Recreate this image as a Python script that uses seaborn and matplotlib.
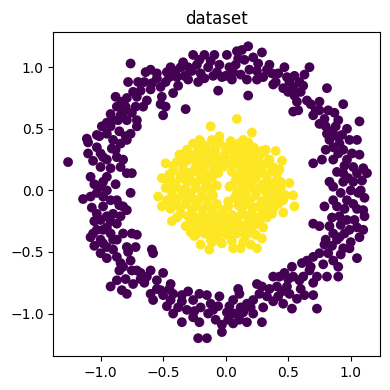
import pandas as pd
import seaborn as sns
import matplotlib.pyplot as plt

# outer ring (label 0)
outer_x = [-1.26, -1.14, -1.07, -1.11, -1.10, -1.10, -1.06, -1.08, -1.00, -1.03,
           -1.01, -0.99, -0.95, -0.92, -0.90, -0.86, -0.84, -0.82, -0.79, -0.88,
           -0.87, -0.83, -0.79, -0.78, -0.76, -0.74, -0.71, -0.68, -0.66, -0.63,
           -0.64, -0.60, -0.59, -0.55, -0.52, -0.50, -0.51, -0.48, -0.47, -0.44,
           -0.42, -0.39, -0.36, -0.34, -0.32, -0.30, -0.26, -0.23, -0.21, -0.17,
           -0.17, -0.14, -0.09, -0.07, -0.06, -0.03, 0.01, 0.03, 0.06, 0.09,
           0.13, 0.15, 0.18, 0.18, 0.17, 0.19, 0.25, 0.26, 0.29, 0.33,
           0.37, 0.38, 0.46, 0.47, 0.49, 0.51, 0.54, 0.54, 0.55, 0.57,
           0.59, 0.63, 0.67, 0.65, 0.70, 0.75, 0.81, 0.82, 0.94, 0.75,
           0.79, 0.87, 0.90, 1.07, 0.81, 0.83, 0.86, 0.89, 0.91, 0.94,
           0.99, 1.05, 0.97, 1.01, 0.70, 0.77, 0.86, 1.07, 1.02, 1.05,
           1.10, 0.89, 0.94, 0.83, 0.86, 0.94, 1.02, 1.09, 1.13, 1.11,
           0.86, 0.89, 0.79, 0.91, 0.97, 1.02, 1.06, 1.10, 1.11, 0.70,
           0.75, 0.83, 0.86, 0.89, 0.99, 0.97, 1.03, 1.10, 1.07, 0.94,
           0.99, 1.05, 0.91, 0.79, 0.82, 0.75, 0.86, 0.90, 0.90, 0.70,
           0.65, 0.61, 0.67, 0.73, 0.81, 0.53, 0.59, 0.54, 0.47, 0.43,
           0.38, 0.49, 0.41, 0.42, 0.46, 0.53, 0.73, 0.70, 0.63, 0.57,
           0.51, 0.33, 0.29, 0.25, 0.27, 0.22, 0.17, 0.11, 0.10, 0.06,
           0.03, 0.01, 0.07, 0.14, 0.22, 0.29, 0.17, 0.11, 0.06, -0.03,
           -0.05, -0.06, -0.10, -0.14, -0.03, -0.15, -0.22, -0.21, -0.26, -0.31,
           -0.26, -0.21, -0.15, -0.30, -0.35, -0.42, -0.44, -0.47, -0.44, -0.50,
           -0.52, -0.58, -0.60, -0.42, -0.35, -0.55, -0.60, -0.58, -0.59, -0.63,
           -0.68, -0.71, -0.74, -0.79, -0.83, -0.87, -0.92, -0.76, -0.82, -0.84,
           -0.87, -0.90, -0.95, -1.00, -0.98, -1.00, -1.06, -1.08, -1.03, -0.98,
           -0.92, -0.87, -0.79, -0.72, -0.75, -0.71, -0.82, -0.84, -0.87, -0.90,
           -0.95, -1.00, -1.03, -0.98, -0.92, -0.87, -0.82, -0.79, -1.03, -1.00,
           -0.98, -0.95, -0.76, -0.75, -0.79, -0.84, -0.87, -0.88, -0.84, -0.80,
           -0.79, -0.90, -0.98, -0.95, -0.91, -0.71, -0.71, -0.76, -0.75,
           -0.55, -0.48, -0.40, -0.33, -0.27, -0.20, -0.12, -0.05, 0.00, 0.08,
           0.12, 0.22, 0.30, 0.42, 0.55, 0.60, 0.68, 0.72, 0.80, 0.85,
           0.93, 0.95, 1.00, 0.92, 1.05, 0.95, 0.85, 0.78, 0.70, 0.60,
           0.45, 0.35, 0.20, -0.08, -0.20, -0.35, -0.50, -0.65, -0.75, -0.85,
           -0.95, -0.92, -0.95, -1.05, -0.92, -1.03, -0.95, -0.80, -0.70, -0.60,
           -0.45, -0.38, -0.30, -0.22, -0.10, 0.05, 0.10, 0.25, 0.35, 0.40,
           0.50, 0.62, 0.58, 0.75, 0.88, 0.97, 0.90, 0.80, 0.98, 1.08,
           0.95, 0.85, 1.05, 0.92, 1.00, 0.92, 0.80, 0.68, 0.62, 0.50,
           0.38, 0.30, 0.12, 0.02, -0.12, -0.25, -0.38, -0.45, -0.55, -0.68,
           -0.80, -0.78, -0.90, -1.05, -0.95, -1.05, -0.85, -0.98, -1.08, -0.88,
           -0.82, -1.00, -0.92, -0.85, -0.72, -0.65, -0.52]
outer_y = [0.23, -0.07, -0.14, 0.42, 0.39, 0.30, 0.24, 0.11, 0.19, 0.35,
           0.44, 0.52, 0.46, 0.52, 0.57, 0.57, 0.61, 0.63, 0.57, 0.76,
           0.68, 0.72, 0.75, 0.88, 1.03, 0.80, 0.76, 0.81, 0.68, 0.73,
           0.96, 0.98, 0.87, 0.91, 0.84, 0.61, 0.76, 0.68, 0.96, 1.00,
           0.79, 0.92, 1.00, 1.04, 0.66, 1.00, 1.10, 1.02, 1.06, 0.91,
           1.10, 1.00, 1.10, 0.96, 0.81, 0.92, 1.10, 1.00, 0.96, 1.13,
           1.14, 1.06, 1.17, 0.77, 0.90, 0.98, 0.90, 1.03, 1.12, 0.98,
           0.95, 0.86, 0.83, 1.00, 0.92, 0.88, 0.84, 0.64, 0.77, 0.72,
           0.88, 0.94, 1.00, 0.73, 0.61, 0.65, 0.83, 0.65, 0.70, 0.54,
           0.58, 0.63, 0.57, 0.56, 0.46, 0.41, 0.35, 0.44, 0.38, 0.33,
           0.41, 0.41, 0.25, 0.30, 0.22, 0.25, 0.25, 0.29, 0.19, 0.14,
           0.18, 0.15, 0.14, 0.07, 0.03, 0.07, 0.07, 0.08, 0.14, -0.06,
           -0.08, -0.13, -0.13, -0.21, -0.08, -0.11, -0.02, -0.16, -0.21, -0.27,
           -0.29, -0.29, -0.35, -0.40, -0.32, -0.24, -0.24, -0.32, -0.38, -0.47,
           -0.47, -0.55, -0.38, -0.44, -0.51, -0.51, -0.57, -0.62, -0.70, -0.54,
           -0.57, -0.59, -0.65, -0.70, -0.70, -0.62, -0.73, -0.70, -0.67, -0.70,
           -0.70, -0.78, -0.78, -0.86, -0.92, -0.96, -0.96, -0.85, -0.85, -0.88,
           -0.84, -0.86, -0.78, -0.76, -0.84, -0.89, -0.92, -0.84, -0.80, -0.89,
           -0.94, -0.99, -1.00, -0.99, -1.00, -1.07, -1.07, -1.05, -1.08, -1.09,
           -0.86, -0.94, -0.97, -1.00, -1.15, -1.20, -1.20, -1.07, -1.03, -0.97,
           -0.89, -0.84, -0.85, -0.82, -0.90, -0.84, -0.89, -0.94, -0.76, -0.67,
           -0.81, -0.89, -0.84, -1.00, -1.07, -0.73, -0.65, -0.51, -0.48, -0.70,
           -0.67, -0.65, -0.76, -0.84, -0.81, -0.73, -0.78, -0.57, -0.62, -0.59,
           -0.54, -0.48, -0.46, -0.51, -0.43, -0.40, -0.35, -0.38, -0.32, -0.32,
           -0.35, -0.40, -0.46, -0.46, -0.35, -0.36, -0.35, -0.21, -0.27, -0.19,
           -0.21, -0.24, -0.19, -0.13, -0.08, -0.08, -0.13, -0.16, -0.02, 0.03,
           0.07, 0.11, -0.02, 0.14, 0.14, 0.19, 0.27, 0.33, 0.38, 0.44,
           0.41, 0.41, 0.27, 0.25, 0.34, 0.57, 0.52, 0.46, 0.63,
           0.95, 0.88, 0.97, 0.93, 0.97, 0.95, 1.05, 1.02, 0.93, 1.02,
           0.94, 1.08, 0.92, 0.95, 0.93, 0.80, 0.70, 0.65, 0.52, 0.48,
           0.45, 0.20, 0.00, -0.02, -0.15, -0.35, -0.45, -0.60, -0.75, -0.80,
           -0.82, -0.80, -0.95, -1.05, -0.95, -0.85, -0.85, -0.75, -0.65, -0.65,
           -0.55, -0.25, 0.00, 0.05, 0.18, 0.45, 0.55, 0.68, 0.88, 0.82,
           0.92, 0.85, 0.90, 0.88, 0.93, 0.90, 1.07, 0.97, 1.02, 0.88,
           0.80, 0.85, 0.65, 0.72, 0.52, 0.50, 0.30, 0.33, 0.10, 0.00,
           -0.15, -0.22, -0.30, -0.28, -0.42, -0.52, -0.40, -0.62, -0.70, -0.72,
           -0.90, -0.95, -0.95, -1.05, -0.92, -0.98, -0.95, -0.80, -0.80, -0.72,
           -0.72, -0.50, -0.40, -0.45, -0.30, -0.25, -0.12, -0.05, -0.05, 0.05,
           0.25, 0.30, 0.62, 0.48, 0.68, 0.88, 0.70]

# inner blob (label 1)
inner_x = [0.09, -0.12, 0.21, -0.48, -0.37, -0.51, -0.54, -0.51, -0.43, -0.28,
           -0.25, -0.13, -0.12, -0.04, 0.06, 0.12, 0.25, 0.29, 0.46, 0.55,
           0.54, 0.51, 0.45, 0.40, 0.32, 0.23, 0.14, -0.05, -0.21, -0.26,
           0.46, 0.43,
           -0.20, -0.11, -0.05, 0.04, 0.10, 0.18,
           -0.31, -0.22, -0.14, -0.08, 0.01, 0.08, 0.15, 0.21, 0.29,
           -0.36, -0.27, -0.19, -0.12, -0.03, 0.05, 0.12, 0.19, 0.27, 0.35,
           -0.42, -0.34, -0.24, -0.17, -0.09, -0.02, 0.08, 0.15, 0.24, 0.31, 0.38,
           -0.45, -0.36, -0.29, -0.20, -0.13, -0.06, 0.11, 0.18, 0.26, 0.33, 0.41,
           -0.46, -0.40, -0.31, -0.24, -0.15, 0.03, 0.14, 0.21, 0.30, 0.38, 0.44,
           -0.43, -0.35, -0.28, -0.19, -0.12, 0.09, 0.16, 0.25, 0.32, 0.40,
           -0.47, -0.39, -0.31, -0.22, -0.14, 0.02, 0.12, 0.20, 0.29, 0.36, 0.43,
           -0.44, -0.36, -0.27, -0.18, -0.10, -0.02, 0.13, 0.22, 0.31, 0.38,
           -0.39, -0.30, -0.23, -0.15, -0.07, 0.01, 0.09, 0.17, 0.25, 0.33,
           -0.32, -0.25, -0.16, -0.09, -0.01, 0.07, 0.15, 0.23, 0.30,
           -0.24, -0.17, -0.08, 0.01, 0.09, 0.16, 0.24,
           -0.11, -0.03, 0.05, 0.14,
           -0.16, -0.08, 0.00, 0.07, 0.14, 0.22,
           -0.33, -0.25, -0.17, -0.09, -0.01, 0.07, 0.15, 0.23, 0.31,
           -0.39, -0.31, -0.23, -0.15, -0.06, 0.02, 0.10, 0.18, 0.26, 0.34,
           -0.42, -0.34, -0.26, -0.18, -0.10, 0.05, 0.13, 0.21, 0.29, 0.37, 0.43,
           -0.44, -0.36, -0.28, -0.20, -0.11, 0.08, 0.16, 0.24, 0.33, 0.41,
           -0.48, -0.40, -0.32, -0.24, -0.16, 0.12, 0.20, 0.28, 0.36, 0.44,
           -0.43, -0.35, -0.27, -0.19, -0.10, 0.07, 0.16, 0.24, 0.33, 0.40, 0.48,
           -0.41, -0.32, -0.24, -0.15, -0.07, 0.02, 0.10, 0.18, 0.26, 0.34, 0.42,
           -0.36, -0.27, -0.19, -0.11, -0.03, 0.05, 0.13, 0.21, 0.29, 0.37,
           -0.28, -0.20, -0.12, -0.05, 0.03, 0.11, 0.19, 0.27,
           -0.20, -0.12, -0.04, 0.04, 0.12, 0.20,
           0.20, -0.20, -0.07, 0.05]
inner_y = [0.58, 0.52, 0.47, 0.22, 0.29, 0.10, -0.05, -0.13, -0.25, -0.34,
           -0.37, -0.48, -0.40, -0.42, -0.47, -0.47, -0.47, -0.39, -0.18, -0.13,
           -0.04, 0.06, 0.24, 0.32, 0.33, 0.34, 0.41, 0.44, 0.41, 0.38,
           -0.08, 0.00,
           0.40, 0.41, 0.39, 0.40, 0.38, 0.39,
           0.33, 0.34, 0.32, 0.34, 0.33, 0.32, 0.34, 0.31, 0.32,
           0.27, 0.26, 0.28, 0.26, 0.27, 0.25, 0.27, 0.26, 0.28, 0.25,
           0.20, 0.21, 0.19, 0.21, 0.20, 0.19, 0.21, 0.19, 0.20, 0.21, 0.19,
           0.13, 0.12, 0.14, 0.13, 0.12, 0.14, 0.12, 0.14, 0.13, 0.12, 0.14,
           0.06, 0.05, 0.07, 0.06, 0.05, 0.03, 0.06, 0.07, 0.05, 0.06, 0.07,
           -0.01, 0.00, -0.02, -0.01, 0.00, -0.02, -0.01, 0.00, -0.01, -0.02,
           -0.08, -0.07, -0.09, -0.08, -0.07, -0.09, -0.08, -0.07, -0.09, -0.08, -0.07,
           -0.15, -0.14, -0.16, -0.15, -0.14, -0.16, -0.15, -0.14, -0.16, -0.15,
           -0.22, -0.21, -0.23, -0.22, -0.21, -0.23, -0.22, -0.21, -0.23, -0.22,
           -0.29, -0.28, -0.30, -0.29, -0.28, -0.30, -0.29, -0.28, -0.30,
           -0.36, -0.35, -0.37, -0.36, -0.35, -0.37, -0.36,
           -0.42, -0.43, -0.41, -0.42,
           0.36, 0.37, 0.35, 0.36, 0.37, 0.35,
           0.30, 0.29, 0.31, 0.30, 0.29, 0.31, 0.30, 0.29, 0.31,
           0.23, 0.24, 0.22, 0.23, 0.24, 0.22, 0.23, 0.24, 0.22, 0.23,
           0.16, 0.17, 0.15, 0.16, 0.17, 0.15, 0.16, 0.17, 0.15, 0.16, 0.17,
           0.09, 0.10, 0.08, 0.09, 0.10, 0.08, 0.09, 0.10, 0.08, 0.09,
           0.02, 0.03, 0.01, 0.02, 0.03, 0.01, 0.02, 0.03, 0.01, 0.02,
           -0.05, -0.04, -0.06, -0.05, -0.04, -0.06, -0.05, -0.04, -0.06, -0.05, -0.04,
           -0.12, -0.11, -0.13, -0.12, -0.11, -0.13, -0.12, -0.11, -0.13, -0.12, -0.11,
           -0.19, -0.18, -0.20, -0.19, -0.18, -0.20, -0.19, -0.18, -0.20, -0.19,
           -0.26, -0.25, -0.27, -0.26, -0.25, -0.27, -0.26, -0.25,
           -0.33, -0.32, -0.34, -0.33, -0.32, -0.34,
           -0.44, -0.44, 0.04, 0.04]

df = pd.DataFrame({
    "x": outer_x + inner_x,
    "y": outer_y + inner_y,
    "label": [0] * len(outer_x) + [1] * len(inner_x),
})

fig = plt.figure(figsize=(3.9, 3.9), dpi=100)
ax = fig.add_axes([0.137, 0.087, 0.838, 0.830])
sns.scatterplot(data=df, x="x", y="y", hue="label",
                palette={0: "#440154", 1: "#fde725"},
                s=50, linewidth=0, alpha=1, legend=False, ax=ax)
ax.set_xlim(-1.377, 1.236)
ax.set_ylim(-1.345, 1.283)
ax.set_xticks([-1.0, -0.5, 0.0, 0.5, 1.0])
ax.set_yticks([-1.0, -0.5, 0.0, 0.5, 1.0])
ax.set_xlabel("")
ax.set_ylabel("")
ax.set_title("dataset")
fig.savefig("out.png", dpi=100)
